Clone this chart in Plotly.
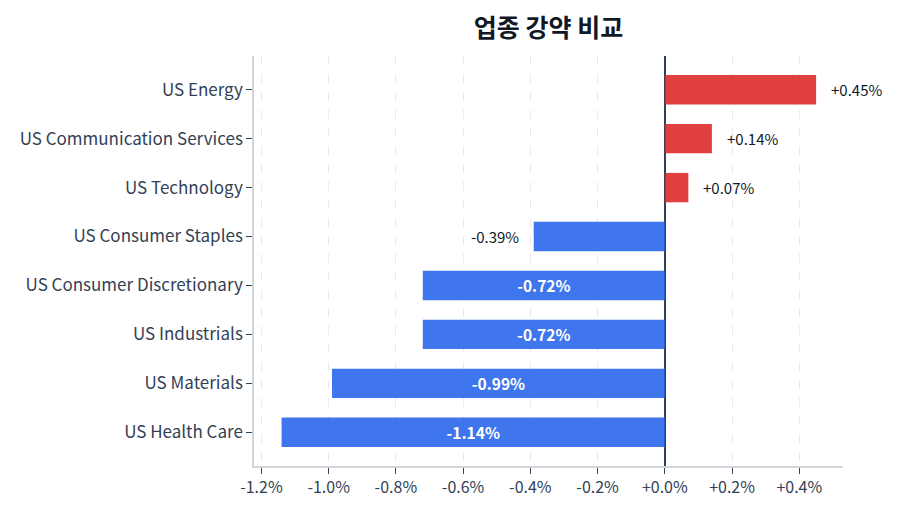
import plotly.graph_objects as go

sectors = ["US Energy", "US Communication Services", "US Technology", "US Consumer Staples",
           "US Consumer Discretionary", "US Industrials", "US Materials", "US Health Care"]
changes = [0.45, 0.14, 0.07, -0.39, -0.72, -0.72, -0.99, -1.14]
tick_vals = [-1.2, -1.0, -0.8, -0.6, -0.4, -0.2, 0.0, 0.2, 0.4]
tick_text = ["-1.2%", "-1.0%", "-0.8%", "-0.6%", "-0.4%", "-0.2%", "+0.0%", "+0.2%", "+0.4%"]
title_text = "업종 강약 비교"

FONT = "Noto Sans CJK KR"
RED = "rgba(220,38,38,0.88)"
BLUE = "rgba(37,99,235,0.88)"

colors = [RED if v >= 0 else BLUE for v in changes]
labels = [("+" if v >= 0 else "") + f"{v:.2f}%" for v in changes]
inside = [abs(v) >= 0.5 for v in changes]

fig = go.Figure()
fig.add_trace(go.Bar(
    x=changes, y=sectors, orientation="h",
    marker=dict(color=colors, line=dict(width=0)),
    width=0.6,
    text=[l if i else "" for l, i in zip(labels, inside)],
    textposition="inside", insidetextanchor="middle",
    textfont=dict(family=FONT, size=16, color="white", weight="bold"),
    hoverinfo="skip",
))

annotations = []
for s, v, l, i in zip(sectors, changes, labels, inside):
    if not i:
        annotations.append(dict(
            x=v, y=s, xref="x", yref="y", text=l, showarrow=False,
            xanchor="left" if v >= 0 else "right",
            xshift=13 if v >= 0 else -13,
            font=dict(family=FONT, size=15, color="#111827"),
        ))

fig.update_layout(
    width=900, height=514,
    margin=dict(l=254, r=57, t=56, b=48),
    paper_bgcolor="white", plot_bgcolor="white",
    font=dict(family=FONT, color="#334155"),
    title=dict(text=title_text, x=0.5, xref="paper", y=0.945, yanchor="middle",
               font=dict(family=FONT, size=25, color="#111827", weight="bold")),
    showlegend=False,
    annotations=annotations,
    bargap=0.4,
)
fig.update_xaxes(
    range=[-1.222, 0.53], tickvals=tick_vals, ticktext=tick_text,
    showgrid=True, gridcolor="#e8eaee", griddash="dash", gridwidth=1,
    zeroline=True, zerolinecolor="#334155", zerolinewidth=1.5,
    showline=True, linecolor="#d1d5db", linewidth=1.5,
    ticks="outside", ticklen=6, tickcolor="#334155",
    tickfont=dict(family=FONT, size=16, color="#334155"),
)
fig.update_yaxes(
    categoryorder="array", categoryarray=sectors, autorange=False, range=[7.69, -0.69],
    showgrid=False, zeroline=False,
    showline=True, linecolor="#d1d5db", linewidth=1.5,
    ticks="outside", ticklen=6, tickcolor="#334155",
    tickfont=dict(family=FONT, size=17, color="#334155"),
)

fig.write_html("out.html")
